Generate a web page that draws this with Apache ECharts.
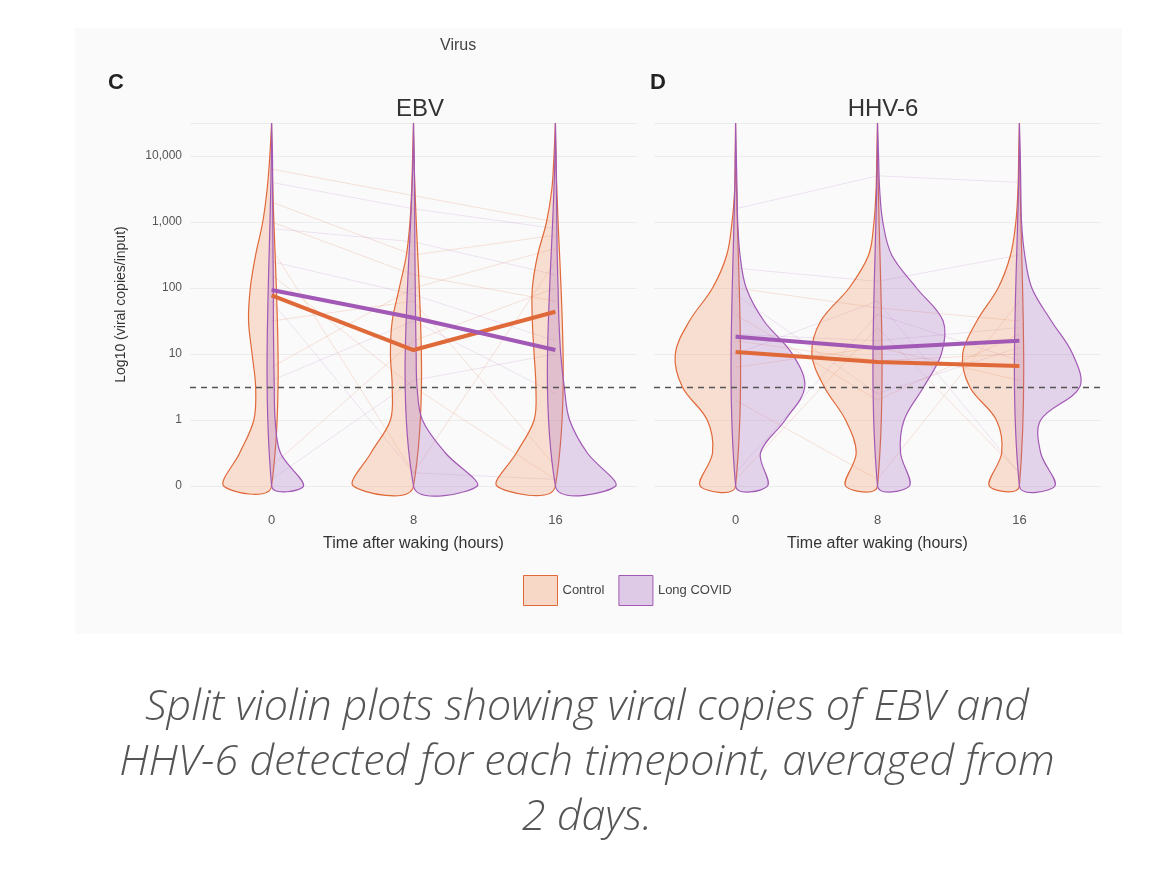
<!DOCTYPE html>
<html>
<head>
<meta charset="utf-8">
<script src="https://cdn.jsdelivr.net/npm/echarts@6/dist/echarts.min.js"></script>
<style>html,body{margin:0;padding:0;background:#fff}#chart{width:1170px;height:888px}</style>
</head>
<body>
<div id="chart"></div>
<script>
// y position: 0 = no copies, 1 = 1 copy, 2 = 10 copies ... (log10 + 1)
var times = [0, 8, 16];
var yTickLabels = ['0', '1', '10', '100', '1,000', '10,000'];
var levels = [0, 0.5, 1, 1.5, 2, 2.5, 3, 3.5, 4, 4.5, 5, 5.5];

// half widths of split violins (hours), one row per timepoint
var ebvControlDens = [
    [2.7, 1.8, 1.0, 0.9, 1.1, 1.3, 1.2, 0.9, 0.5, 0.25, 0.1, 0],
    [3.4, 2.4, 1.3, 1.2, 1.3, 1.2, 0.8, 0.4, 0.2, 0.1, 0.05, 0],
    [3.3, 2.2, 1.2, 1.1, 1.2, 1.3, 1.3, 1.0, 0.5, 0.2, 0.08, 0]
];
var ebvLongDens = [
    [1.8, 0.5, 0.2, 0.15, 0.12, 0.1, 0.1, 0.08, 0.07, 0.06, 0.05, 0],
    [3.6, 1.8, 0.5, 0.2, 0.15, 0.12, 0.1, 0.08, 0.07, 0.06, 0.04, 0],
    [3.4, 1.8, 0.8, 0.5, 0.3, 0.2, 0.15, 0.1, 0.08, 0.06, 0.04, 0]
];
var hhvControlDens = [
    [2.0, 1.3, 1.6, 3.0, 3.4, 2.6, 1.3, 0.5, 0.2, 0.05, 0.02, 0],
    [1.8, 1.2, 1.8, 3.0, 3.7, 3.2, 1.6, 0.5, 0.2, 0.08, 0.04, 0],
    [1.7, 1.0, 1.3, 2.8, 3.2, 2.4, 1.2, 0.5, 0.2, 0.08, 0.04, 0]
];
var hhvLongDens = [
    [1.8, 1.4, 2.8, 3.9, 3.2, 1.6, 0.6, 0.25, 0.12, 0.08, 0.04, 0],
    [1.8, 1.3, 1.5, 2.6, 3.6, 3.7, 2.2, 0.8, 0.3, 0.12, 0.06, 0],
    [2.0, 1.2, 1.2, 3.4, 3.0, 1.8, 0.7, 0.3, 0.12, 0.08, 0.05, 0]
];

// group means
var ebvControlMean = [2.89, 2.06, 2.64];
var ebvLongMean = [2.97, 2.55, 2.06];
var hhvControlMean = [2.03, 1.88, 1.82];
var hhvLongMean = [2.26, 2.09, 2.2];
var threshold = 1.5;

// a few individual subject traces (faint)
var ebvControlSubjects = [[4.0, 3.2, 2.8], [3.6, 0.2, 3.4], [2.5, 2.8, 0.3], [0.3, 2.2, 3.0], [4.3, 3.5, 3.8], [3.2, 1.5, 0.1], [1.8, 3.0, 3.6], [4.8, 4.4, 4.0]];
var ebvLongSubjects = [[3.4, 2.9, 2.2], [4.6, 4.2, 3.9], [0.1, 1.6, 2.0], [2.8, 0.2, 0.1], [3.9, 3.7, 3.2], [1.6, 2.5, 1.4]];
var hhvControlSubjects = [[2.2, 1.9, 2.0], [0.1, 2.4, 0.2], [2.6, 1.3, 2.3], [1.8, 2.1, 1.6], [3.0, 2.7, 2.5], [1.3, 0.1, 2.8]];
var hhvLongSubjects = [[2.3, 2.2, 2.4], [4.2, 4.7, 4.6], [0.2, 2.6, 1.9], [2.9, 1.4, 2.1], [2.0, 2.8, 0.2], [3.3, 3.1, 3.5]];

var orange = '#e0693a', purple = '#a259b5';
var orangeFill = 'rgba(240,150,100,0.28)', purpleFill = 'rgba(170,110,195,0.28)';

var chart = echarts.init(document.getElementById('chart'));

function violinSeries(name, idx, dens, side, line, fill) {
    return {
        name: name, type: 'custom', xAxisIndex: idx, yAxisIndex: idx, z: 3,
        data: times.map(function (t) { return [t, 0]; }),
        renderItem: function (params, api) {
            var t = api.value(0);
            var w = dens[params.dataIndex];
            var pts = [api.coord([t, 0])];
            for (var i = 0; i < levels.length; i++) {
                pts.push(api.coord([t + side * w[i], levels[i]]));
            }
            pts.push(api.coord([t, levels[levels.length - 1]]));
            return {
                type: 'polygon',
                shape: { points: pts, smooth: 0.35 },
                style: { fill: fill, stroke: line, lineWidth: 1.2 }
            };
        }
    };
}

function lineSeries(name, idx, vals, color, width, opacity, z) {
    return {
        name: name, type: 'line', xAxisIndex: idx, yAxisIndex: idx, z: z,
        data: times.map(function (t, i) { return [t, vals[i]]; }),
        symbol: 'none', silent: true,
        lineStyle: { color: color, width: width, opacity: opacity }
    };
}

var series = [];
[[0, ebvControlSubjects, ebvLongSubjects], [1, hhvControlSubjects, hhvLongSubjects]].forEach(function (p) {
    p[1].forEach(function (s) { series.push(lineSeries('c', p[0], s, orange, 1, 0.18, 1)); });
    p[2].forEach(function (s) { series.push(lineSeries('l', p[0], s, purple, 1, 0.15, 1)); });
});
series.push(violinSeries('Control', 0, ebvControlDens, -1, orange, orangeFill));
series.push(violinSeries('Long COVID', 0, ebvLongDens, 1, purple, purpleFill));
series.push(violinSeries('Control', 1, hhvControlDens, -1, orange, orangeFill));
series.push(violinSeries('Long COVID', 1, hhvLongDens, 1, purple, purpleFill));
series.push(lineSeries('Control', 0, ebvControlMean, orange, 4, 1, 5));
series.push(lineSeries('Long COVID', 0, ebvLongMean, purple, 4, 1, 5));
series.push(lineSeries('Control', 1, hhvControlMean, orange, 4, 1, 5));
series.push(lineSeries('Long COVID', 1, hhvLongMean, purple, 4, 1, 5));
[0, 1].forEach(function (i) {
    series.push({
        type: 'line', xAxisIndex: i, yAxisIndex: i, data: [], silent: true,
        markLine: { symbol: 'none', silent: true, label: { show: false },
            lineStyle: { color: '#555', type: [6, 5], width: 1.3 },
            data: [{ yAxis: threshold }] }
    });
});

function xAxis(idx) {
    return {
        type: 'value', gridIndex: idx, min: -4.6, max: 20.6,
        name: 'Time after waking (hours)', nameLocation: 'middle', nameGap: 50,
        nameTextStyle: { fontSize: 16, color: '#333', fontFamily: 'Liberation Sans' },
        axisLine: { show: false }, axisTick: { show: false },
        splitLine: { show: false },
        axisLabel: { customValues: times, margin: 28, fontSize: 13, color: '#555' }
    };
}
function yAxis(idx) {
    return {
        type: 'value', gridIndex: idx, min: 0, max: 5.5, interval: 1,
        name: idx === 0 ? 'Log10 (viral copies/input)' : '',
        nameLocation: 'middle', nameGap: 62, nameRotate: 90,
        nameTextStyle: { fontSize: 14, color: '#333', fontFamily: 'Liberation Sans' },
        axisLine: { show: false }, axisTick: { show: false },
        splitLine: { lineStyle: { color: '#ececec' } },
        axisLabel: { show: idx === 0, showMaxLabel: false, fontSize: 12, color: '#555',
            formatter: function (v) { return yTickLabels[v] || ''; } }
    };
}

chart.setOption({
    backgroundColor: '#fff',
    animation: false,
    graphic: [
        { type: 'rect', z: -10, shape: { x: 75, y: 28, width: 1047, height: 606 }, style: { fill: '#fafafa' } },
        { type: 'text', left: 440, top: 38, style: { text: 'Virus', fontSize: 16, fill: '#444', fontFamily: 'Liberation Sans' } },
        { type: 'text', left: 108, top: 72, style: { text: 'C', fontSize: 22, fontWeight: 'bold', fill: '#222', fontFamily: 'Liberation Sans' } },
        { type: 'text', left: 650, top: 72, style: { text: 'D', fontSize: 22, fontWeight: 'bold', fill: '#222', fontFamily: 'Liberation Sans' } },
        { type: 'text', x: 587, y: 680, style: {
            text: 'Split violin plots showing viral copies of EBV and\nHHV-6 detected for each timepoint, averaged from\n2 days.',
            align: 'center', fontSize: 43, lineHeight: 55, fontStyle: 'italic', fontWeight: 300,
            fill: '#555', fontFamily: 'Open Sans' } }
    ],
    title: [
        { text: 'EBV', left: 415, top: 92, textAlign: 'center', textStyle: { fontSize: 24, fontWeight: 'normal', color: '#333', fontFamily: 'Liberation Sans' } },
        { text: 'HHV-6', left: 878, top: 92, textAlign: 'center', textStyle: { fontSize: 24, fontWeight: 'normal', color: '#333', fontFamily: 'Liberation Sans' } }
    ],
    legend: {
        top: 570, left: 518, itemWidth: 34, itemGap: 14, itemHeight: 30,
        textStyle: { fontSize: 13, color: '#444' },
        data: [
            { name: 'Control', icon: 'rect', itemStyle: { color: 'rgba(240,150,100,0.35)', borderColor: orange, borderWidth: 1 } },
            { name: 'Long COVID', icon: 'rect', itemStyle: { color: 'rgba(170,110,195,0.35)', borderColor: purple, borderWidth: 1 } }
        ]
    },
    grid: [
        { left: 190, top: 123, width: 447, height: 363 },
        { left: 654, top: 123, width: 447, height: 363 }
    ],
    xAxis: [xAxis(0), xAxis(1)],
    yAxis: [yAxis(0), yAxis(1)],
    series: series
});
</script>
</body>
</html>
